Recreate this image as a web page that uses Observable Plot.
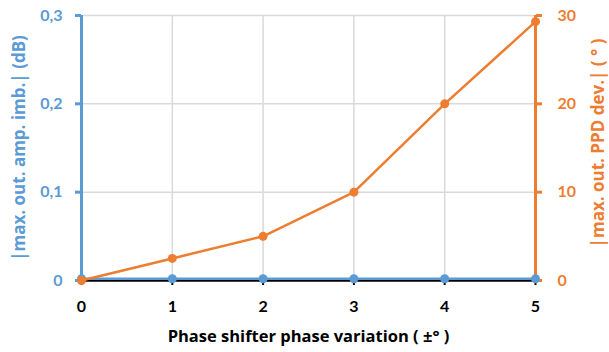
<!DOCTYPE html>
<html>
<head>
<meta charset="utf-8">
<script src="https://cdn.jsdelivr.net/npm/d3@7"></script>
<script src="https://cdn.jsdelivr.net/npm/@observablehq/plot@0.6"></script>
<style>
  body { margin: 0; background: #fff; }
  #chart svg { font-family: Lato, "Open Sans", sans-serif; font-weight: bold; }
  #chart svg .title { font-family: "Open Sans", Lato, sans-serif; }
</style>
</head>
<body>
<div id="chart"></div>
<script>
// Phase shifter phase variation (±°)
const variation = [0, 1, 2, 3, 4, 5];
// |max. out. amp. imb.| in dB (left axis)
const ampImbalance = [0.002, 0.002, 0.002, 0.002, 0.002, 0.002];
// |max. out. PPD dev.| in degrees (right axis)
const ppdDeviation = [0, 2.5, 5, 10, 20, 29.3];
// axis ticks
const leftTicks = [0, 0.1, 0.2, 0.3];
const rightTicks = [0, 10, 20, 30];
const xTicks = [0, 1, 2, 3, 4, 5];

const blue = "#5B9BD5";
const orange = "#ED7D31";
const ratio = 100; // degrees per dB: 30° on the right matches 0.3 dB on the left

const amp = variation.map((x, i) => ({x, y: ampImbalance[i]}));
const ppd = variation.map((x, i) => ({x, y: ppdDeviation[i] / ratio}));

const fmtLeft = d => d === 0 ? "0" : d.toFixed(1).replace(".", ",");

const chart = Plot.plot({
  width: 609,
  height: 352,
  marginLeft: 81,
  marginRight: 74,
  marginTop: 15,
  marginBottom: 72,
  style: {fontSize: "16px", fontWeight: "bold"},
  x: {domain: [0, 5]},
  y: {domain: [0, 0.3]},
  marks: [
    Plot.gridX(xTicks.slice(1), {stroke: "#d9d9d9", strokeOpacity: 1, strokeWidth: 1.5}),
    Plot.gridY(leftTicks.slice(1), {stroke: "#d9d9d9", strokeOpacity: 1, strokeWidth: 1.5}),
    // left axis (dB)
    Plot.axisY(leftTicks, {anchor: "left", color: blue, tickSize: 6, tickPadding: 13,
      strokeWidth: 3, tickFormat: fmtLeft, label: null, fontSize: 16}),
    Plot.ruleX([0], {stroke: blue, strokeWidth: 3}),
    // right axis (degrees)
    Plot.axisY(rightTicks.map(t => t / ratio), {anchor: "right", color: orange, tickSize: 6,
      tickPadding: 16, strokeWidth: 3, tickFormat: d => String(Math.round(d * ratio)),
      label: null, fontSize: 16}),
    Plot.ruleX([5], {stroke: orange, strokeWidth: 3}),
    // bottom axis
    Plot.axisX(xTicks, {anchor: "bottom", color: "#000", tickSize: 5, tickPadding: 15,
      strokeWidth: 2, label: null, fontSize: 16}),
    Plot.ruleY([0], {stroke: "#000", strokeWidth: 2.5}),
    // series
    Plot.line(amp, {x: "x", y: "y", stroke: blue, strokeWidth: 2.5}),
    Plot.dot(amp, {x: "x", y: "y", r: 4.5, fill: blue}),
    Plot.line(ppd, {x: "x", y: "y", stroke: orange, strokeWidth: 2.5}),
    Plot.dot(ppd, {x: "x", y: "y", r: 4.5, fill: orange}),
    // axis titles
    Plot.text(["|max. out. amp. imb.| (dB)"], {frameAnchor: "left", dx: -62, rotate: -90,
      textAnchor: "middle", lineAnchor: "middle", fill: blue, fontSize: 17, fontWeight: "bold",
      className: "title"}),
    Plot.text(["|max. out. PPD dev.| ( ° )"], {frameAnchor: "right", dx: 63, dy: -5, rotate: -90,
      textAnchor: "middle", lineAnchor: "middle", fill: orange, fontSize: 17, fontWeight: "bold",
      className: "title"}),
    Plot.text(["Phase shifter phase variation ( ±° )"], {frameAnchor: "bottom", dy: 50,
      textAnchor: "middle", lineAnchor: "top", fill: "#000", fontSize: 16.5, fontWeight: "bold",
      className: "title"})
  ]
});
document.getElementById("chart").append(chart);
</script>
</body>
</html>
